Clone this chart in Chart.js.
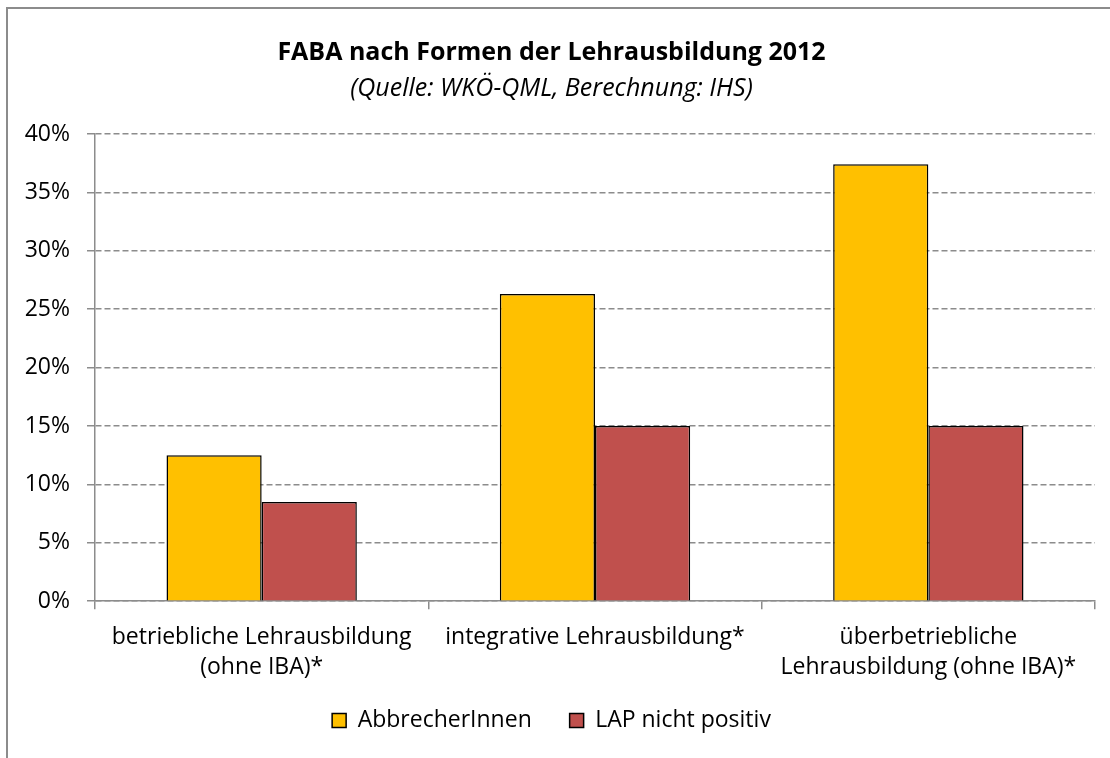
<!DOCTYPE html>
<html>
<head>
<meta charset="utf-8">
<script src="https://cdn.jsdelivr.net/npm/chart.js@4/dist/chart.umd.min.js"></script>
<style>
	body { margin: 0; background: #fff; }
	#wrap { position: relative; width: 1110px; height: 758px; overflow: hidden; }
	#frame { position: absolute; left: 6px; top: 7px; width: 1200px; height: 800px; border: 2px solid #8c8c8c; pointer-events: none; }
	canvas { position: absolute; left: 0; top: 0; }
</style>
</head>
<body>
<div id="wrap">
	<canvas id="generatedChart" width="1110" height="758"></canvas>
	<div id="frame"></div>
</div>
<script>
//chart data
var chart_labels = [
	['betriebliche Lehrausbildung', '(ohne IBA)*'],
	['integrative Lehrausbildung*'],
	['überbetriebliche', 'Lehrausbildung (ohne IBA)*']
];
var series_names = ['AbbrecherInnen', 'LAP nicht positiv'];
var abbrecher = [12.5, 26.3, 37.4];
var lap_nicht_positiv = [8.5, 15.0, 15.0];
var y_ticks = [0, 5, 10, 15, 20, 25, 30, 35, 40];

var font_family = "'Open Sans', Lato, sans-serif";
var grid_gray = '#8c8c8c';

Chart.defaults.color = '#000';
Chart.defaults.font.family = font_family;

var ctx = document.getElementById('generatedChart');
var myChart = new Chart(ctx, {
	type: 'bar',
	data: {
		labels: chart_labels,
		datasets: [{
			label: series_names[0],
			data: abbrecher,
			backgroundColor: '#FFC000',
			borderColor: '#000',
			borderWidth: 1.5
		}, {
			label: series_names[1],
			data: lap_nicht_positiv,
			backgroundColor: '#C0504D',
			borderColor: '#000',
			borderWidth: 1.5
		}]
	},
	options: {
		responsive: false,
		animation: false,
		devicePixelRatio: 1,
		datasets: {
			bar: { categoryPercentage: 0.571, barPercentage: 1 }
		},
		layout: {
			padding: { left: 8, right: 15, top: 13, bottom: 16 }
		},
		plugins: {
			tooltip: { enabled: false },
			title: {
				display: true,
				text: 'FABA nach Formen der Lehrausbildung 2012',
				font: { size: 25, weight: 'bold' },
				padding: { top: 25, bottom: 6 }
			},
			subtitle: {
				display: true,
				text: '(Quelle: WKÖ-QML, Berechnung: IHS)',
				font: { size: 25, style: 'italic' },
				padding: { top: 0, bottom: 30 }
			},
			legend: {
				position: 'bottom',
				labels: {
					boxWidth: 14,
					boxHeight: 14,
					padding: 14,
					font: { size: 23 },
					//wider gap between the two entries, like the original
					generateLabels: function(chart) {
						var items = Chart.defaults.plugins.legend.labels.generateLabels(chart);
						items.forEach(function(item, i) {
							item.lineWidth = 1.5;
							if(i < items.length - 1) { item.text = item.text + '    '; }
						});
						return items;
					}
				}
			}
		},
		scales: {
			x: {
				grid: {
					offset: true,
					drawOnChartArea: false,
					color: grid_gray,
					lineWidth: 1.5,
					tickLength: 8
				},
				border: { color: grid_gray, width: 1.5 },
				ticks: {
					font: { size: 23, lineHeight: 1.3 },
					padding: 13,
					maxRotation: 0
				}
			},
			y: {
				min: 0,
				max: 40,
				afterFit: function(scale) { scale.width = 87; },
				afterBuildTicks: function(scale) {
					scale.ticks = y_ticks.map(function(v) { return { value: v }; });
				},
				grid: {
					color: grid_gray,
					lineWidth: 1.5,
					tickLength: 8
				},
				border: { color: grid_gray, width: 1.5, dash: [6, 3] },
				ticks: {
					font: { size: 23 },
					padding: 17,
					callback: function(v) { return v + '%'; }
				}
			}
		}
	}
});
</script>
</body>
</html>
